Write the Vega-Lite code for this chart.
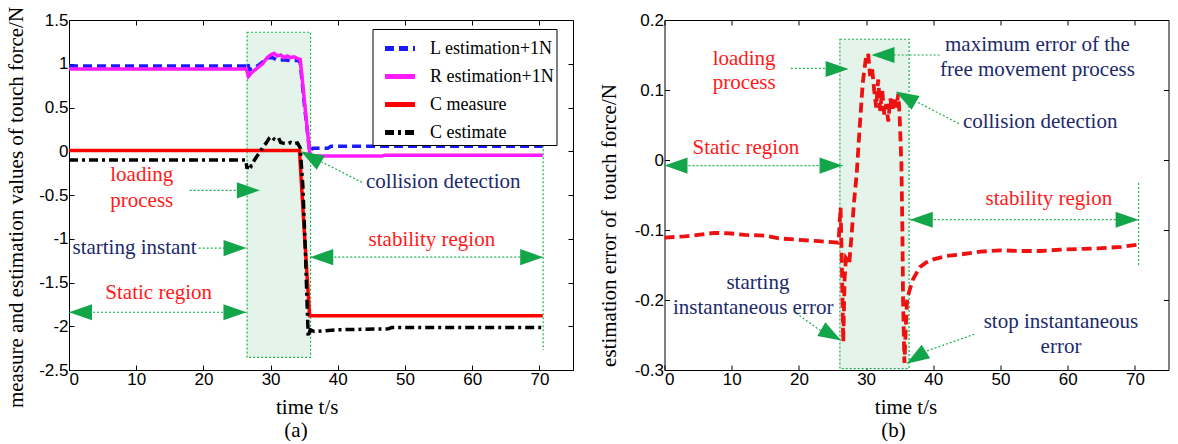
{
  "$schema": "https://vega.github.io/schema/vega-lite/v6.json",
  "background": "white",
  "padding": {"left": 4, "top": 5, "right": 4, "bottom": 0},
  "bounds": "flush",
  "spacing": 91.5,
  "datasets": {
    "seriesA": [
      {"s": "L estimation+1N", "t": 0, "v": 0.975}, {"s": "L estimation+1N", "t": 26.4, "v": 0.975}, {"s": "L estimation+1N", "t": 26.6, "v": 1.01}, {"s": "L estimation+1N", "t": 26.8, "v": 0.93}, {"s": "L estimation+1N", "t": 27.5, "v": 0.95}, {"s": "L estimation+1N", "t": 28.3, "v": 0.99}, {"s": "L estimation+1N", "t": 29.0, "v": 1.03}, {"s": "L estimation+1N", "t": 29.6, "v": 1.07}, {"s": "L estimation+1N", "t": 30.3, "v": 1.07}, {"s": "L estimation+1N", "t": 31.0, "v": 1.04}, {"s": "L estimation+1N", "t": 32.0, "v": 1.045}, {"s": "L estimation+1N", "t": 33.0, "v": 1.035}, {"s": "L estimation+1N", "t": 34.0, "v": 1.04}, {"s": "L estimation+1N", "t": 34.4, "v": 1.02}, {"s": "L estimation+1N", "t": 35.0, "v": 0.55}, {"s": "L estimation+1N", "t": 35.8, "v": 0.0}, {"s": "L estimation+1N", "t": 36.3, "v": 0.035}, {"s": "L estimation+1N", "t": 38.5, "v": 0.035}, {"s": "L estimation+1N", "t": 39.0, "v": 0.057}, {"s": "L estimation+1N", "t": 55, "v": 0.057}, {"s": "L estimation+1N", "t": 70.5, "v": 0.057},
      {"s": "R estimation+1N", "t": 0, "v": 0.94}, {"s": "R estimation+1N", "t": 26.4, "v": 0.94}, {"s": "R estimation+1N", "t": 26.7, "v": 0.855}, {"s": "R estimation+1N", "t": 27.2, "v": 0.9}, {"s": "R estimation+1N", "t": 28.0, "v": 0.95}, {"s": "R estimation+1N", "t": 28.8, "v": 1.0}, {"s": "R estimation+1N", "t": 29.5, "v": 1.07}, {"s": "R estimation+1N", "t": 30.0, "v": 1.1}, {"s": "R estimation+1N", "t": 30.5, "v": 1.12}, {"s": "R estimation+1N", "t": 31.0, "v": 1.09}, {"s": "R estimation+1N", "t": 31.5, "v": 1.1}, {"s": "R estimation+1N", "t": 32.0, "v": 1.07}, {"s": "R estimation+1N", "t": 32.5, "v": 1.09}, {"s": "R estimation+1N", "t": 33.0, "v": 1.07}, {"s": "R estimation+1N", "t": 33.5, "v": 1.08}, {"s": "R estimation+1N", "t": 34.0, "v": 1.06}, {"s": "R estimation+1N", "t": 34.4, "v": 1.05}, {"s": "R estimation+1N", "t": 35.0, "v": 0.6}, {"s": "R estimation+1N", "t": 35.8, "v": -0.01}, {"s": "R estimation+1N", "t": 36.1, "v": -0.055}, {"s": "R estimation+1N", "t": 46.5, "v": -0.055}, {"s": "R estimation+1N", "t": 47.0, "v": -0.045}, {"s": "R estimation+1N", "t": 70.5, "v": -0.045},
      {"s": "C measure", "t": 0, "v": 0.008}, {"s": "C measure", "t": 34.3, "v": 0.008}, {"s": "C measure", "t": 35.0, "v": -0.9}, {"s": "C measure", "t": 35.8, "v": -1.88}, {"s": "C measure", "t": 70.5, "v": -1.88},
      {"s": "C estimate", "t": 0, "v": -0.1}, {"s": "C estimate", "t": 26.3, "v": -0.1}, {"s": "C estimate", "t": 26.5, "v": -0.2}, {"s": "C estimate", "t": 26.7, "v": -0.14}, {"s": "C estimate", "t": 27.1, "v": -0.17}, {"s": "C estimate", "t": 27.6, "v": -0.1}, {"s": "C estimate", "t": 28.3, "v": -0.02}, {"s": "C estimate", "t": 28.8, "v": 0.04}, {"s": "C estimate", "t": 29.3, "v": 0.09}, {"s": "C estimate", "t": 29.8, "v": 0.15}, {"s": "C estimate", "t": 30.1, "v": 0.17}, {"s": "C estimate", "t": 30.5, "v": 0.14}, {"s": "C estimate", "t": 30.8, "v": 0.13}, {"s": "C estimate", "t": 31.2, "v": 0.15}, {"s": "C estimate", "t": 31.5, "v": 0.1}, {"s": "C estimate", "t": 32.0, "v": 0.09}, {"s": "C estimate", "t": 32.5, "v": 0.085}, {"s": "C estimate", "t": 33.0, "v": 0.1}, {"s": "C estimate", "t": 33.5, "v": 0.085}, {"s": "C estimate", "t": 34.0, "v": 0.095}, {"s": "C estimate", "t": 34.4, "v": 0.04}, {"s": "C estimate", "t": 34.8, "v": -0.4}, {"s": "C estimate", "t": 35.2, "v": -1.2}, {"s": "C estimate", "t": 35.5, "v": -1.9}, {"s": "C estimate", "t": 35.6, "v": -2.12}, {"s": "C estimate", "t": 35.9, "v": -2.04}, {"s": "C estimate", "t": 36.5, "v": -2.06}, {"s": "C estimate", "t": 40, "v": -2.04}, {"s": "C estimate", "t": 47.5, "v": -2.03}, {"s": "C estimate", "t": 48, "v": -2.015}, {"s": "C estimate", "t": 70.5, "v": -2.015}
    ],
    "seriesB": [
      {"t": 0, "v": -0.111}, {"t": 3, "v": -0.109}, {"t": 5, "v": -0.107}, {"t": 7.5, "v": -0.104}, {"t": 10, "v": -0.105}, {"t": 12, "v": -0.107}, {"t": 15, "v": -0.108}, {"t": 17, "v": -0.112}, {"t": 20, "v": -0.114}, {"t": 23, "v": -0.116}, {"t": 25.9, "v": -0.118},
      {"t": 26.2, "v": -0.068}, {"t": 26.4, "v": -0.15}, {"t": 26.6, "v": -0.26}, {"t": 26.8, "v": -0.17}, {"t": 27.0, "v": -0.14}, {"t": 27.5, "v": -0.147}, {"t": 27.9, "v": -0.1}, {"t": 28.2, "v": -0.06}, {"t": 28.6, "v": -0.02}, {"t": 29.0, "v": 0.04}, {"t": 29.5, "v": 0.11}, {"t": 30.0, "v": 0.148}, {"t": 30.3, "v": 0.152},
      {"t": 30.6, "v": 0.12}, {"t": 30.9, "v": 0.13}, {"t": 31.2, "v": 0.1}, {"t": 31.5, "v": 0.075}, {"t": 31.8, "v": 0.115}, {"t": 32.1, "v": 0.07}, {"t": 32.4, "v": 0.1}, {"t": 32.7, "v": 0.065}, {"t": 33.0, "v": 0.08}, {"t": 33.3, "v": 0.055}, {"t": 33.6, "v": 0.088}, {"t": 33.9, "v": 0.07}, {"t": 34.2, "v": 0.09}, {"t": 34.5, "v": 0.075}, {"t": 34.8, "v": 0.095},
      {"t": 35.0, "v": 0.06}, {"t": 35.25, "v": -0.005}, {"t": 35.4, "v": -0.1}, {"t": 35.5, "v": -0.2}, {"t": 35.7, "v": -0.29}, {"t": 35.9, "v": -0.24}, {"t": 36.1, "v": -0.2}, {"t": 36.5, "v": -0.185}, {"t": 37.0, "v": -0.17}, {"t": 38.0, "v": -0.153}, {"t": 39.0, "v": -0.146}, {"t": 40.0, "v": -0.142}, {"t": 42.0, "v": -0.137}, {"t": 44.0, "v": -0.135}, {"t": 47.0, "v": -0.131}, {"t": 50.0, "v": -0.129}, {"t": 53.0, "v": -0.13}, {"t": 56.0, "v": -0.13}, {"t": 59.0, "v": -0.128}, {"t": 62.0, "v": -0.127}, {"t": 65.0, "v": -0.126}, {"t": 68.0, "v": -0.124}, {"t": 70.5, "v": -0.121}
    ],
    "boxA": [{"x1": 26.5, "x2": 35.95, "y1": 1.36, "y2": -2.355}],
    "boxB": [{"x1": 26.1, "x2": 36.4, "y1": 0.1725, "y2": -0.298}],
    "segA": [
      {"x1": 17.95, "y1": -0.447, "x2": 24.9, "y2": -0.447},
      {"x1": 19.3, "y1": -1.107, "x2": 24.0, "y2": -1.107},
      {"x1": 0, "y1": -1.84, "x2": 26.4, "y2": -1.84},
      {"x1": 43.6, "y1": -0.355, "x2": 37.55, "y2": -0.12},
      {"x1": 35.9, "y1": -1.21, "x2": 70.56, "y2": -1.21},
      {"x1": 70.56, "y1": 0.16, "x2": 70.56, "y2": -2.27}
    ],
    "segB": [
      {"x1": 18.8, "y1": 0.131, "x2": 24.1, "y2": 0.131},
      {"x1": 34.1, "y1": 0.15, "x2": 41.06, "y2": 0.15},
      {"x1": 43.8, "y1": 0.052, "x2": 37.55, "y2": 0.083},
      {"x1": 0, "y1": -0.008, "x2": 26.5, "y2": -0.008},
      {"x1": 36.5, "y1": -0.0853, "x2": 70.55, "y2": -0.0853},
      {"x1": 70.55, "y1": -0.033, "x2": 70.55, "y2": -0.15},
      {"x1": 19.6, "y1": -0.219, "x2": 23.4, "y2": -0.245},
      {"x1": 46.1, "y1": -0.249, "x2": 38.96, "y2": -0.273}
    ],
    "triA": [
      {"x": 28.4, "y": -0.447, "dir": "right"},
      {"x": 26.42, "y": -1.107, "dir": "right"},
      {"x": 0, "y": -1.84, "dir": "left"},
      {"x": 26.4, "y": -1.84, "dir": "right"},
      {"x": 34.5, "y": 0.0, "dir": "upleft"},
      {"x": 35.9, "y": -1.21, "dir": "left"},
      {"x": 70.56, "y": -1.21, "dir": "right"}
    ],
    "triB": [
      {"x": 27.4, "y": 0.13, "dir": "right"},
      {"x": 30.8, "y": 0.15, "dir": "left"},
      {"x": 34.4, "y": 0.098, "dir": "upleft"},
      {"x": 0, "y": -0.008, "dir": "left"},
      {"x": 26.5, "y": -0.008, "dir": "right"},
      {"x": 36.5, "y": -0.0853, "dir": "left"},
      {"x": 70.55, "y": -0.0853, "dir": "right"},
      {"x": 26.3, "y": -0.258, "dir": "downright"},
      {"x": 36.0, "y": -0.291, "dir": "downleft"}
    ],
    "textA": [
      {"x": 10.83, "y": -0.275, "label": "loading", "kind": "region"},
      {"x": 10.83, "y": -0.573, "label": "process", "kind": "region"},
      {"x": 9.76, "y": -1.107, "label": "starting instant", "kind": "event"},
      {"x": 13.35, "y": -1.622, "label": "Static region", "kind": "region"},
      {"x": 55.7, "y": -0.351, "label": "collision detection", "kind": "event"},
      {"x": 54.0, "y": -1.019, "label": "stability region", "kind": "region"}
    ],
    "textB": [
      {"x": 11.85, "y": 0.1447, "label": "loading", "kind": "region"},
      {"x": 11.85, "y": 0.1094, "label": "process", "kind": "region"},
      {"x": 55.5, "y": 0.165, "label": "maximum error of the", "kind": "event"},
      {"x": 55.5, "y": 0.129, "label": "free movement process", "kind": "event"},
      {"x": 55.9, "y": 0.054, "label": "collision detection", "kind": "event"},
      {"x": 12.1, "y": 0.0173, "label": "Static region", "kind": "region"},
      {"x": 57.2, "y": -0.055, "label": "stability region", "kind": "region"},
      {"x": 13.9, "y": -0.176, "label": "starting", "kind": "event"},
      {"x": 13.2, "y": -0.212, "label": "instantaneous error", "kind": "event"},
      {"x": 59.0, "y": -0.231, "label": "stop instantaneous", "kind": "event"},
      {"x": 59.0, "y": -0.267, "label": "error", "kind": "event"}
    ]
  },
  "hconcat": [
    {
      "width": 504,
      "height": 350,
      "title": {"text": "(a)", "orient": "bottom", "frame": "group", "anchor": "middle", "dx": -25, "offset": 2},
      "layer": [
        {
          "layer": [
            {
              "data": {"name": "boxA"},
              "mark": {"type": "rect", "fill": "#e5f4ea", "stroke": "#19b04c", "strokeWidth": 1.2, "strokeDash": [2, 2]},
              "encoding": {
                "x": {"field": "x1", "type": "quantitative", "scale": {"domain": [0, 75], "nice": false, "zero": false},
                      "axis": {"values": [0, 10, 20, 30, 40, 50, 60, 70], "title": "time t/s", "titleX": 237.7, "titleY": 37.5, "titleBaseline": "middle",
                               "labelExpr": "replace(format(datum.value, '~g'), '\u2212', '-')"}},
                "x2": {"field": "x2"},
                "y": {"field": "y1", "type": "quantitative", "scale": {"domain": [-2.5, 1.5], "nice": false, "zero": false},
                      "axis": {"values": [-2.5, -2, -1.5, -1, -0.5, 0, 0.5, 1, 1.5], "title": "measure and estimation values of touch force/N",
                               "titleX": -53, "titleY": 187, "titleBaseline": "middle", "titleAlign": "center",
                               "labelExpr": "replace(format(datum.value, '~g'), '\u2212', '-')"}},
                "y2": {"field": "y2"}
              }
            },
            {
              "data": {"name": "seriesA"},
              "mark": {"type": "line", "strokeWidth": 3.5, "interpolate": "linear"},
              "encoding": {
                "x": {"field": "t", "type": "quantitative"},
                "y": {"field": "v", "type": "quantitative"},
                "color": {"field": "s", "type": "nominal",
                          "scale": {"domain": ["L estimation+1N", "R estimation+1N", "C measure", "C estimate"], "range": ["#1a1aff", "#ff1aff", "#ff0000", "#000000"]},
                          "legend": {"title": null, "orient": "none", "legendX": 303.5, "legendY": 9, "symbolType": "stroke", "symbolSize": 900, "symbolStrokeWidth": 5, "symbolOffset": 8,
                                     "labelFont": "Liberation Serif", "labelFontSize": 18, "labelColor": "black", "labelOffset": 12.6, "rowPadding": -6.5, "padding": 2,
                                     "strokeColor": "black", "fillColor": "white", "labelLimit": 300,
                                     "labelExpr": "(indexof(datum.label, 'C ') == 0 ? '\u00a0\u00a0\u00a0\u00a0' : '') + datum.label + '\u00a0\u00a0\u00a0'"}},
                "strokeDash": {"field": "s", "type": "nominal",
                               "scale": {"domain": ["L estimation+1N", "R estimation+1N", "C measure", "C estimate"], "range": [[9, 5], [1, 0], [1, 0], [9, 4, 3, 4]]},
                               "legend": {"title": null, "orient": "none", "legendX": 303.5, "legendY": 9, "symbolType": "stroke", "symbolSize": 900, "symbolStrokeWidth": 5, "symbolOffset": 8,
                                     "labelFont": "Liberation Serif", "labelFontSize": 18, "labelColor": "black", "labelOffset": 12.6, "rowPadding": -6.5, "padding": 2,
                                     "strokeColor": "black", "fillColor": "white", "labelLimit": 300,
                                     "labelExpr": "(indexof(datum.label, 'C ') == 0 ? '\u00a0\u00a0\u00a0\u00a0' : '') + datum.label + '\u00a0\u00a0\u00a0'"}}
              }
            },
            {
              "data": {"name": "segA"},
              "mark": {"type": "rule", "color": "#19b04c", "strokeWidth": 1.2, "strokeDash": [2, 2]},
              "encoding": {
                "x": {"field": "x1", "type": "quantitative"}, "x2": {"field": "x2"},
                "y": {"field": "y1", "type": "quantitative"}, "y2": {"field": "y2"}
              }
            },
            {
              "data": {"name": "triA"},
              "mark": {"type": "point", "filled": true, "color": "#13a54a", "opacity": 1, "size": 529},
              "encoding": {
                "x": {"field": "x", "type": "quantitative"},
                "y": {"field": "y", "type": "quantitative"},
                "shape": {"field": "dir", "type": "nominal", "legend": null,
                          "scale": {"domain": ["right", "left", "upleft", "downright", "downleft"],
                                    "range": ["M0,0L-2,-0.7L-2,0.7Z", "M0,0L2,0.7L2,-0.7Z", "M0,0L1.382,1.606L2.082,0.394Z", "M0,0L-1.382,-1.606L-2.082,-0.394Z", "M0,0L2.067,-0.466L1.325,-1.654Z"]}}
              }
            },
            {
              "data": {"name": "textA"},
              "transform": [{"filter": "datum.kind == 'region'"}],
              "mark": {"type": "text", "font": "Liberation Serif", "fontSize": 21, "color": "#ff1a1a", "align": "center", "baseline": "middle"},
              "encoding": {
                "x": {"field": "x", "type": "quantitative"},
                "y": {"field": "y", "type": "quantitative"},
                "text": {"field": "label"}
              }
            },
            {
              "data": {"name": "textA"},
              "transform": [{"filter": "datum.kind == 'event'"}],
              "mark": {"type": "text", "font": "Liberation Serif", "fontSize": 21, "color": "#1c2a6a", "align": "center", "baseline": "middle"},
              "encoding": {
                "x": {"field": "x", "type": "quantitative"},
                "y": {"field": "y", "type": "quantitative"},
                "text": {"field": "label"}
              }
            }
          ]
        },
        {
          "data": {"name": "boxA"},
          "mark": {"type": "point", "opacity": 0},
          "encoding": {
            "x": {"field": "x1", "type": "quantitative", "axis": {"orient": "top", "labels": false, "title": null, "values": [0, 10, 20, 30, 40, 50, 60, 70]}},
            "y": {"field": "y1", "type": "quantitative", "axis": {"orient": "right", "labels": false, "title": null, "values": [-2.5, -2, -1.5, -1, -0.5, 0, 0.5, 1, 1.5]}}
          }
        }
      ],
      "resolve": {"axis": {"x": "independent", "y": "independent"}}
    },
    {
      "width": 504,
      "height": 350,
      "title": {"text": "(b)", "orient": "bottom", "frame": "group", "anchor": "middle", "dx": -23, "offset": 2},
      "layer": [
        {
          "layer": [
            {
              "data": {"name": "boxB"},
              "mark": {"type": "rect", "fill": "#e5f4ea", "stroke": "#19b04c", "strokeWidth": 1.2, "strokeDash": [2, 2]},
              "encoding": {
                "x": {"field": "x1", "type": "quantitative", "scale": {"domain": [0, 75], "nice": false, "zero": false},
                      "axis": {"values": [0, 10, 20, 30, 40, 50, 60, 70], "title": "time t/s", "titleX": 241, "titleY": 37.5, "titleBaseline": "middle",
                               "labelExpr": "replace(format(datum.value, '~g'), '\u2212', '-')"}},
                "x2": {"field": "x2"},
                "y": {"field": "y1", "type": "quantitative", "scale": {"domain": [-0.3, 0.2], "nice": false, "zero": false},
                      "axis": {"values": [-0.3, -0.2, -0.1, 0, 0.1, 0.2], "title": "estimation error of \u00a0touch force/N",
                               "titleX": -55, "titleY": 205, "titleBaseline": "middle", "titleAlign": "center",
                               "labelExpr": "replace(format(datum.value, '~g'), '\u2212', '-')"}},
                "y2": {"field": "y2"}
              }
            },
            {
              "data": {"name": "seriesB"},
              "mark": {"type": "line", "strokeWidth": 3.8, "color": "#ee1111", "strokeDash": [10, 5]},
              "encoding": {
                "x": {"field": "t", "type": "quantitative"},
                "y": {"field": "v", "type": "quantitative"}
              }
            },
            {
              "data": {"name": "segB"},
              "mark": {"type": "rule", "color": "#19b04c", "strokeWidth": 1.2, "strokeDash": [2, 2]},
              "encoding": {
                "x": {"field": "x1", "type": "quantitative"}, "x2": {"field": "x2"},
                "y": {"field": "y1", "type": "quantitative"}, "y2": {"field": "y2"}
              }
            },
            {
              "data": {"name": "triB"},
              "mark": {"type": "point", "filled": true, "color": "#13a54a", "opacity": 1, "size": 529},
              "encoding": {
                "x": {"field": "x", "type": "quantitative"},
                "y": {"field": "y", "type": "quantitative"},
                "shape": {"field": "dir", "type": "nominal", "legend": null,
                          "scale": {"domain": ["right", "left", "upleft", "downright", "downleft"],
                                    "range": ["M0,0L-2,-0.7L-2,0.7Z", "M0,0L2,0.7L2,-0.7Z", "M0,0L1.382,1.606L2.082,0.394Z", "M0,0L-1.382,-1.606L-2.082,-0.394Z", "M0,0L2.067,-0.466L1.325,-1.654Z"]}}
              }
            },
            {
              "data": {"name": "textB"},
              "transform": [{"filter": "datum.kind == 'region'"}],
              "mark": {"type": "text", "font": "Liberation Serif", "fontSize": 21, "color": "#ff1a1a", "align": "center", "baseline": "middle"},
              "encoding": {
                "x": {"field": "x", "type": "quantitative"},
                "y": {"field": "y", "type": "quantitative"},
                "text": {"field": "label"}
              }
            },
            {
              "data": {"name": "textB"},
              "transform": [{"filter": "datum.kind == 'event'"}],
              "mark": {"type": "text", "font": "Liberation Serif", "fontSize": 21, "color": "#1c2a6a", "align": "center", "baseline": "middle"},
              "encoding": {
                "x": {"field": "x", "type": "quantitative"},
                "y": {"field": "y", "type": "quantitative"},
                "text": {"field": "label"}
              }
            }
          ]
        },
        {
          "data": {"name": "boxB"},
          "mark": {"type": "point", "opacity": 0},
          "encoding": {
            "x": {"field": "x1", "type": "quantitative", "axis": {"orient": "top", "labels": false, "title": null, "values": [0, 10, 20, 30, 40, 50, 60, 70]}},
            "y": {"field": "y1", "type": "quantitative", "axis": {"orient": "right", "labels": false, "title": null, "values": [-0.3, -0.2, -0.1, 0, 0.1, 0.2]}}
          }
        }
      ],
      "resolve": {"axis": {"x": "independent", "y": "independent"}}
    }
  ],
  "config": {
    "font": "Liberation Serif",
    "view": {"stroke": "black", "strokeWidth": 1},
    "axis": {"grid": false, "domain": false, "ticks": true, "tickColor": "black", "tickSize": -5, "tickWidth": 1,
             "labelFont": "Liberation Sans", "labelFontSize": 17, "labelColor": "black", "labelPadding": 6,
             "titleFont": "Liberation Serif", "titleFontSize": 21, "titleFontWeight": "normal", "titleColor": "black"},
    "title": {"font": "Liberation Serif", "fontSize": 21, "fontWeight": "normal", "color": "black"}
  }
}
